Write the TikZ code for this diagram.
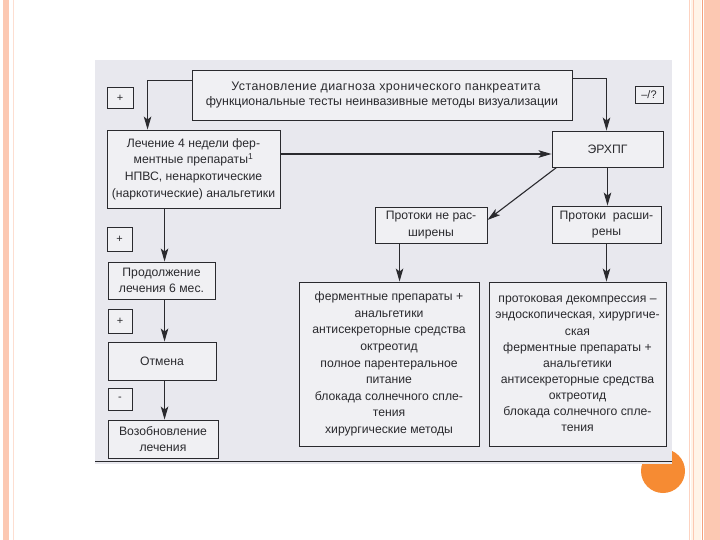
\documentclass[tikz,border=0pt]{standalone}
\usepackage{fontspec}
\setmainfont{Liberation Sans}
\usetikzlibrary{arrows.meta}
\definecolor{peach}{HTML}{FCC8B2}
\definecolor{peachline}{HTML}{F4A27E}
\definecolor{cream}{HTML}{FFF4E8}
\definecolor{dotorange}{HTML}{F68B33}
\definecolor{scanbg}{HTML}{E8E8EE}
\definecolor{boxbg}{HTML}{F0F0F3}
\definecolor{ink}{HTML}{2A2A2E}
\tikzset{
  box/.style={draw=ink, line width=0.9pt, fill=boxbg, inner sep=0pt, align=center,
    text=ink, font=\fontsize{12.2}{16.6}\selectfont},
  sign/.style={draw=ink, line width=0.7pt, fill=boxbg, inner sep=0pt, text=ink,
    font=\fontsize{11}{13}\selectfont},
  arr/.style={draw=ink, line width=1.1pt, -{Stealth[length=13pt,width=7.5pt,inset=3pt]}},
}
\begin{document}
\begin{tikzpicture}[x=1pt,y=-1pt]
\useasboundingbox (0,0) rectangle (720,540);
\fill[white] (0,0) rectangle (720,540);
% slide decorations
\fill[peach] (3,0) rectangle (9,540);
\draw[peach!60, line width=0.8pt] (13,0) -- (13,540);
\draw[peach!80, line width=0.8pt] (689.5,0) -- (689.5,540);
\fill[cream] (691,0) rectangle (701,540);
\draw[peach, line width=0.8pt] (693.5,0) -- (693.5,540);
\draw[peachline, line width=1.5pt] (702.5,0) -- (702.5,540);
\fill[peach] (704,0) rectangle (720,540);
\fill[dotorange] (663,471) circle (22);
% scanned image area
\fill[scanbg] (95,60) rectangle (672,464);
\draw[ink, line width=0.8pt] (95,461) -- (672,461);
% nodes
\node[box, minimum width=380, minimum height=50, font=\fontsize{12.4}{15.5}\selectfont] (top) at (382,95)
  {\hspace*{8pt}{\addfontfeature{LetterSpace=3.5}Установление диагноза хронического панкреатита}\\функциональные тесты неинвазивные методы визуализации};
\node[sign, minimum width=26, minimum height=21] (plus1) at (120,98) {+};
\node[sign, minimum width=28, minimum height=17] (qm) at (649,94.5) {–/?};
\node[box, minimum width=173, minimum height=78] (treat) at (193.5,169)
  {Лечение 4 недели фер-\\ментные препараты\textsuperscript{1}\\НПВС, ненаркотические\\(наркотические) анальгетики};
\node[box, minimum width=111, minimum height=36] (ercp) at (607.5,149) {ЭРХПГ};
\node[box, minimum width=112, minimum height=36] (pnr) at (431,225) {Протоки не рас-\\ширены};
\node[box, minimum width=109, minimum height=37] (pr) at (606.5,224.5) {Протоки\ \ расши-\\рены};
\node[box, minimum width=180, minimum height=164] (lb) at (389,364)
  {ферментные препараты +\\анальгетики\\антисекреторные средства\\октреотид\\полное парентеральное\\питание\\блокада солнечного спле-\\тения\\хирургические методы};
\node[box, minimum width=177, minimum height=164, font=\fontsize{12.2}{16.1}\selectfont] (rb) at (577.5,364)
  {протоковая декомпрессия –\\эндоскопическая, хирургиче-\\ская\\ферментные препараты +\\анальгетики\\антисекреторные средства\\октреотид\\блокада солнечного спле-\\тения};
\node[sign, minimum width=25, minimum height=24] (plus2) at (119.5,239) {+};
\node[box, minimum width=107, minimum height=37] (cont) at (161.5,280.5) {Продолжение\\лечения 6 мес.};
\node[sign, minimum width=24, minimum height=24] (plus3) at (120,321) {+};
\node[box, minimum width=108, minimum height=38] (otm) at (162,361) {Отмена};
\node[sign, minimum width=24, minimum height=22] (minus) at (120,399) {-};
\node[box, minimum width=110, minimum height=38] (voz) at (163,439) {Возобновление\\лечения};
% connectors
\draw[arr] ([yshift=-11pt]top.north west) -| ([xshift=41pt]treat.north west);
\draw[arr] ([yshift=-9pt]top.north east) -| ([xshift=-1pt]ercp.north);
\draw[arr] ([yshift=15pt]treat.east) -- ([yshift=15pt]treat.east -| ercp.west);
\draw[arr] ([xshift=5pt]ercp.south west) -- ([yshift=5pt]pnr.east);
\draw[arr] (ercp.south) -- (ercp.south |- pr.north);
\draw[arr] ([xshift=25pt]pnr.south west) -- ([xshift=25pt]pnr.south west |- lb.north);
\draw[arr] (pr.south) -- (pr.south |- rb.north);
\draw[arr] ([xshift=58pt]treat.south west) -- ([xshift=58pt]treat.south west |- cont.north);
\draw[arr] ([xshift=58pt]treat.south west |- cont.south) -- ([xshift=58pt]treat.south west |- otm.north);
\draw[arr] ([xshift=58pt]treat.south west |- otm.south) -- ([xshift=58pt]treat.south west |- voz.north);
\end{tikzpicture}
\end{document}
